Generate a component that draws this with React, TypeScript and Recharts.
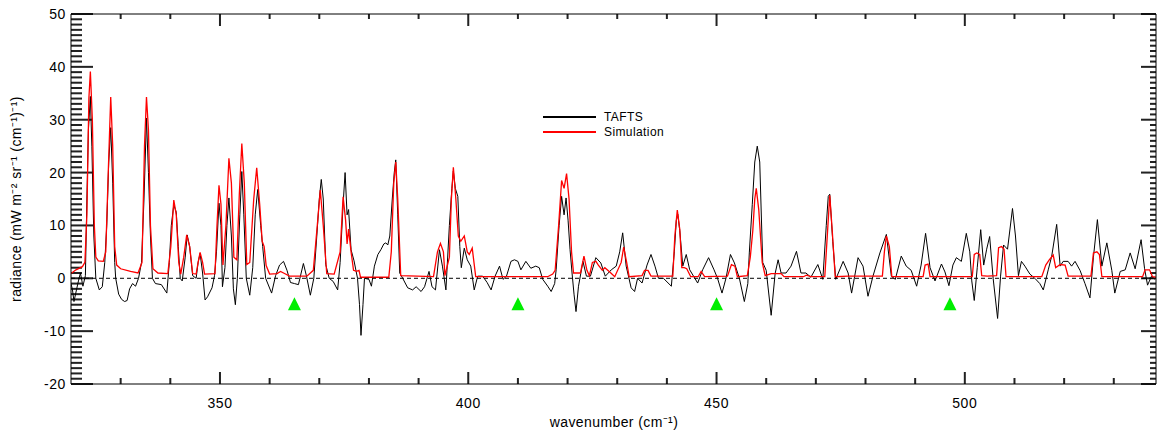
import React from "react";
import {
  ComposedChart,
  Line,
  XAxis,
  YAxis,
  Scatter,
  ReferenceLine,
  Legend,
  Label,
} from "recharts";

// ---------------- DATA ----------------
const taftsWavenumber = [
  320.0, 320.3, 320.6, 321.1, 321.5, 321.9, 322.4, 322.9, 323.2, 323.5, 323.9, 324.2, 324.6, 325.0, 325.7,
  326.3, 326.8, 327.2, 327.6, 328.0, 328.4, 328.8, 329.0, 329.6, 330.2, 330.8, 331.3, 331.8, 332.4, 333.0,
  333.6, 334.2, 334.7, 335.2, 335.6, 336.0, 336.4, 337.0, 338.2, 339.3, 339.8, 340.2, 340.7, 341.2, 341.6,
  342.0, 342.4, 343.0, 343.4, 343.9, 344.5, 345.2, 345.6, 346.0, 346.5, 347.0, 347.5, 348.4, 348.9, 349.3,
  349.8, 350.2, 350.5, 351.0, 351.4, 351.8, 352.3, 352.7, 353.1, 353.5, 354.0, 354.4, 354.8, 355.3, 356.0,
  356.6, 357.1, 357.6, 358.2, 358.6, 359.2, 360.4, 361.2, 362.0, 362.8, 363.5, 364.2, 365.0, 365.8, 366.8,
  367.4, 368.2, 368.9, 369.5, 370.0, 370.4, 370.8, 371.3, 372.0, 372.8, 373.7, 374.2, 374.8, 375.2, 375.6,
  375.9, 376.4, 377.0, 377.7, 378.1, 378.4, 378.8, 379.1, 380.0, 380.5, 381.1, 381.8, 382.4, 383.0, 383.4,
  383.8, 384.2, 384.7, 385.1, 385.4, 385.8, 386.2, 386.8, 387.8, 388.8, 389.5, 390.5, 391.2, 392.1, 392.7,
  393.4, 394.2, 394.8, 395.5, 396.2, 396.7, 397.0, 397.4, 397.9, 398.3, 398.6, 399.2, 399.8, 400.5, 401.2,
  401.9, 402.9, 403.8, 404.6, 405.4, 406.3, 407.0, 407.7, 408.6, 409.3, 410.0, 410.6, 411.6, 412.6, 413.6,
  414.3, 415.0, 416.0, 416.7, 417.4, 417.7, 418.3, 418.8, 419.3, 419.7, 420.1, 420.5, 420.9, 421.3, 421.7,
  422.2, 423.1, 423.8, 424.6, 425.7, 426.7, 427.6, 428.8, 429.8, 430.5, 431.1, 431.8, 432.8, 433.5, 434.1,
  435.0, 436.0, 436.8, 437.6, 438.3, 439.3, 440.9, 441.5, 441.9, 442.2, 442.6, 443.2, 443.9, 444.6, 445.5,
  446.2, 447.2, 448.4, 449.5, 450.2, 451.1, 451.9, 452.8, 453.6, 454.6, 455.6, 456.3, 456.6, 457.2, 457.7,
  458.2, 458.7, 459.3, 460.0, 461.0, 461.8, 462.4, 463.0, 464.0, 465.0, 466.1, 467.0, 468.0, 469.0, 470.4,
  471.4, 472.1, 472.5, 472.8, 473.4, 474.0, 475.5, 476.5, 477.2, 478.5, 479.5, 480.5, 481.5, 482.9, 484.2,
  485.2, 486.0, 487.2, 488.2, 489.2, 490.3, 491.2, 492.1, 493.0, 494.0, 495.3, 496.0, 496.8, 497.6, 498.3,
  499.3, 500.3, 501.0, 501.4, 501.9, 502.5, 503.2, 503.8, 504.4, 505.0, 505.7, 506.6, 507.2, 507.8, 508.6,
  509.6, 510.2, 510.8, 511.4, 512.1, 513.1, 514.1, 515.1, 515.8, 516.8, 517.5, 518.5, 519.2, 519.8, 520.8,
  521.5, 522.2, 523.2, 524.2, 525.2, 525.9, 526.7, 527.6, 528.6, 529.6, 530.2, 531.3, 532.3, 533.3, 534.3,
  535.5, 536.2, 536.8, 537.6, 538.3,
];
const taftsRadiance = [
  -1.0, -2.2, -4.4, -2.2, -0.5, 1.0, -1.5, 0.5, 15, 28, 34.4, 25, 8, 0, -2.2,
  -1.6, 3, 10, 22, 28.5, 18, 3, 0, -3.0, -4.0, -4.4, -4.2, -2.0, -1.0, -1.5,
  0, 3, 15, 30.3, 20, 8, 0, -1.0, -1.2, -2.8, 3, 10, 13.9, 12.5, 6,
  0, -0.5, 4, 8.2, 6, 0.5, 0, 3, 4.7, 1, -4.1, -3.5, -1.8, 0.5, 5,
  14.2, 10, -1.6, 2, 10, 15.2, 8, -2, -5.0, 0, 12, 20.2, 12, 0, -3.2,
  2, 12, 16.8, 10, 6, 0, -2.8, 0.5, 2.5, 3.2, 1.5, -0.8, -1.0, -1.2, 2.8,
  0.5, -3.2, 0, 8, 15, 18.7, 15, 2.6, 0, -0.6, -2.2, 3, 14, 20.0, 12,
  13, 5.4, 3.3, 0, -5, -10.8, -5, 0, -0.2, -1.5, 2.3, 4.5, 5.4, 6.5, 6.7,
  6.3, 8, 15, 20, 22.4, 12, 1, 0, -1.8, -2.2, -1.6, -2.5, -1.6, 1.3, -1.6,
  -2.2, 5.4, 2.3, -2.2, 10, 17, 20.3, 17, 15.5, 6, 2, 5.7, 3.5, 2.3, -2.2,
  0.4, 0.4, -0.8, -2.2, 0.4, 2.3, -0.2, 0.4, 3.2, 3.5, 3.2, 1.6, 3.2, 1.9, 2.3,
  2.0, -0.2, -1.5, -2.5, -1, 1.6, 10, 15.5, 12, 15.2, 11, 5.4, 1, -3, -6.3,
  -1.5, 3.2, 0.4, 0.4, 3.9, 2.9, 0.4, 1.6, 2.3, 5, 8.6, 2.3, -1.8, -2.5, 0,
  -0.9, 2.5, 4.5, 2.3, 0, 0, -1.5, 5, 11, 12.1, 9, 2.3, 4.5, 1.6, 0.2,
  -0.9, 1.6, 3.9, 1.6, 0, -2.8, 0, 4.5, 2.9, 0, -4.4, -1, 4.8, 14, 22,
  25.0, 22, 3, 1.5, -7.0, 0.9, 3.5, 1, 1.0, 2.3, 5.1, 1, 1, 0.2, 2.6,
  -0.2, 10, 15.5, 15.9, 7, -0.2, 3.2, 1, -2.8, 3.9, 2.3, -3.4, 0.4, 4.8, 8.3,
  0.4, -0.2, 4.2, 2.3, 1.5, -1.5, 2.5, 8.5, 2.0, -0.5, 2.7, 1.2, -1.4, 2.5, 3.9,
  3.2, 8.5, 5, -0.5, -4.2, 2.0, 9.2, 2.5, 5.5, 7.9, 0, -7.6, 0.4, 6.3, 5.5,
  13.2, 8, 0.5, 3.2, 2.3, 0.8, 0, -1, -2.2, 1.6, 4.2, 10.2, 2.3, 3.2, 3.2,
  2.3, 3.2, 1.5, -1, -3.7, 4, 11.1, 2.3, 6.7, 1.5, -2.8, 1.3, 1.6, 4.8, 1.8,
  7.3, 1.8, -1.3, 0.4, -0.2,
];

const simWavenumber = [
  320.0, 321.0, 322.3, 322.8, 323.2, 323.6, 323.9, 324.3, 324.7, 325.0, 325.5, 326.5, 327.0, 327.5, 328.0,
  328.4, 328.8, 329.2, 330.0, 332.0, 333.5, 334.3, 334.8, 335.2, 335.6, 336.0, 336.5, 337.5, 339.5, 340.1,
  340.7, 341.2, 341.7, 342.1, 342.7, 343.3, 343.9, 344.5, 345.2, 345.6, 346.0, 346.5, 346.9, 349.0, 349.4,
  349.8, 350.2, 350.6, 351.2, 351.8, 352.3, 352.8, 353.4, 353.9, 354.4, 354.9, 355.4, 356.0, 356.8, 357.4,
  358.0, 358.5, 358.9, 359.3, 360.0, 361.5, 362.2, 363.0, 364.0, 367.5, 368.8, 369.6, 370.2, 370.8, 371.5,
  373.0, 374.2, 374.8, 375.3, 375.6, 375.9, 376.4, 376.9, 377.5, 378.0, 378.3, 384.0, 384.5, 385.0, 385.4,
  385.8, 386.4, 393.0, 393.8, 394.4, 395.0, 395.3, 396.2, 396.6, 397.0, 397.5, 398.0, 398.5, 399.2, 399.8,
  400.2, 400.8, 401.5, 416.0, 417.0, 417.5, 418.2, 418.8, 419.3, 419.8, 420.3, 420.8, 421.2, 422.6, 423.3,
  423.9, 424.4, 425.0, 425.7, 426.2, 427.0, 427.5, 428.5, 429.5, 430.8, 431.3, 431.9, 432.4, 435.0, 435.5,
  436.2, 436.8, 441.2, 441.6, 442.1, 442.6, 443.0, 443.5, 444.0, 444.8, 446.3, 446.9, 447.6, 452.2, 453.0,
  453.7, 454.2, 456.2, 456.8, 457.3, 457.7, 458.0, 458.5, 459.2, 459.8, 461.0, 463.0, 463.6, 467.5, 468.1,
  469.0, 471.8, 472.3, 472.8, 473.3, 473.9, 476.5, 477.2, 483.4, 483.8, 484.2, 484.8, 485.3, 491.6, 492.0,
  492.6, 493.0, 501.5, 501.9, 502.4, 503.0, 503.4, 504.5, 506.4, 506.8, 507.4, 507.9, 508.3, 515.5, 516.3,
  517.0, 517.8, 518.3, 519.2, 520.2, 520.8, 525.4, 525.9, 526.6, 527.1, 527.6, 535.8, 536.3, 537.2, 537.8,
  538.5,
];
const simRadiance = [
  0.9, 1.6, 2.2, 3.0, 12, 34, 39.1, 30, 10, 4.0, 3.3, 3.2, 5, 20, 34.3,
  25, 6, 2.5, 1.8, 1.3, 1.0, 3, 25, 34.3, 28, 10, 1.8, 1.0, 0.9, 6,
  14.8, 12, 3, 0.8, 4, 8.2, 6, 0.9, 0.8, 3, 4.9, 3, 0.8, 0.9, 10,
  17.6, 14, 2.5, 10, 22.7, 18, 4, 3.5, 16, 25.5, 18, 2.6, 3, 15, 20.9,
  14, 7.0, 6, 2.4, 0.8, 0.9, 1.3, 0.9, 0.4, 0.4, 1.5, 10, 16.7, 10, 0.9,
  0.8, 5, 15.4, 11, 6.5, 9.3, 5, 1.5, 1.3, 1.5, 0.2, 0.2, 5, 18, 22.0,
  15, 0.5, 0.3, 5, 6.6, 5, 0.5, 4, 15, 21.0, 15, 8.0, 7, 8.0, 5,
  4.5, 5.7, 0.3, 0.3, 0.8, 1.5, 10, 18.5, 17, 19.8, 15, 5, 1, 1, 4.2,
  1.5, 0.5, 3, 3.2, 2.5, 1.5, 2, 1.2, 0.3, 3, 5.9, 3, 0.3, 0.5, 1.5,
  1.5, 0.4, 0.4, 8, 12.9, 9.2, 2, 2.0, 1.8, 0.3, 0.3, 1.3, 0.3, 0.4, 2.6,
  2.3, 0.3, 0.5, 4, 9, 15, 17.0, 13, 3, 0.5, 0.9, 0.9, 0.3, 0.3, 0.6,
  0.3, 0.3, 8, 15.7, 9, 0.3, 0.4, 0.4, 0.4, 5, 8.0, 6, 0.3, 0.3, 2.5,
  2.7, 0.3, 0.3, 4.5, 4.8, 4.5, 0.5, 0.4, 0.5, 5.8, 6.0, 5.5, 0.3, 0.3, 2.5,
  3.5, 4.4, 2.0, 2.6, 2.5, 0.4, 0.4, 4.8, 5.0, 4.5, 0.3, 0.3, 1.6, 1.6, 0.3,
  0.2,
];

const markerWavenumber = [365, 410, 450, 497];
const markerRadiance = [-4.8, -4.8, -4.8, -4.8];

const xDomain = [320, 538.5];
const yDomain = [-20, 50];
const xMajorTicks = [350, 400, 450, 500];
const xMinorTicks = [330, 340, 360, 370, 380, 390, 410, 420, 430, 440, 460, 470, 480, 490, 510, 520, 530];
const yMajorTicks = [-20, -10, 0, 10, 20, 30, 40, 50];
const yMinorTicks: number[] = [];
for (let v = -20; v <= 50; v++) if (v % 10 !== 0) yMinorTicks.push(v);

const seriesNames = ["TAFTS", "Simulation"];
const seriesColors = ["#000000", "#ff0000"];

const taftsData = taftsWavenumber.map((x, i) => ({ x, y: taftsRadiance[i] }));
const simData = simWavenumber.map((x, i) => ({ x, y: simRadiance[i] }));
const markerData = markerWavenumber.map((x, i) => ({ x, y: markerRadiance[i] }));

// ---------------- STYLE ----------------
const FONT = "'Liberation Sans', Arial, sans-serif";
const W = 1157;
const H = 431;
const TICK = "#222";

const BottomLabel = (props: any) => {
  const { x, y, payload } = props;
  return (
    <text x={x} y={y + 24} textAnchor="middle" fontSize={14} fontFamily={FONT} fill="#000" letterSpacing={0.6}>
      {payload.value}
    </text>
  );
};

const LeftLabel = (props: any) => {
  const { x, y, payload } = props;
  return (
    <text x={x - 5} y={y + 5} textAnchor="end" fontSize={14} fontFamily={FONT} fill="#000" letterSpacing={0.6}>
      {payload.value}
    </text>
  );
};

// inward frame tick marks on all four sides (stable shape functions)
const drawYTick = (p: any, lenL: number, lenR: number) => {
  const left = Math.min(p.x1, p.x2);
  const right = Math.max(p.x1, p.x2);
  return (
    <g>
      <rect x={left} y={p.y1 - 1} width={lenL} height={2} fill={TICK} />
      <rect x={right - lenR} y={p.y1 - 1} width={lenR} height={2} fill={TICK} />
    </g>
  );
};
const yTickMajorShape = (p: any) => drawYTick(p, 22, 15);
const yTickMinorShape = (p: any) => drawYTick(p, 11, 6);

const drawXTick = (p: any, lenB: number, lenT: number) => {
  const top = Math.min(p.y1, p.y2);
  const bottom = Math.max(p.y1, p.y2);
  return (
    <g>
      <rect x={p.x1 - 1} y={bottom - lenB} width={2} height={lenB} fill={TICK} />
      <rect x={p.x1 - 1} y={top} width={2} height={lenT} fill={TICK} />
    </g>
  );
};
const xTickMajorShape = (p: any) => drawXTick(p, 12, 12);
const xTickMinorShape = (p: any) => drawXTick(p, 6, 5);

const Triangle = (props: any) => {
  const { cx, cy } = props;
  if (cx == null || cy == null) return null;
  const h = 13;
  const w = 13;
  const pts = `${cx},${cy - h / 2} ${cx - w / 2},${cy + h / 2} ${cx + w / 2},${cy + h / 2}`;
  return <polygon points={pts} fill="#00ee00" stroke="none" />;
};

const LegendContent = () => (
  <div style={{ fontFamily: FONT, fontSize: 12, color: "#000", letterSpacing: 0.4 }}>
    {seriesNames.map((n, i) => (
      <div key={n} style={{ display: "flex", alignItems: "center", height: 15 }}>
        <div style={{ width: 53, height: 2, background: seriesColors[i], marginRight: 8 }} />
        <span>{n}</span>
      </div>
    ))}
  </div>
);

const XTitle = () => (
  <text x={614} y={427} textAnchor="middle" fontSize={14} fontFamily={FONT} fill="#000" letterSpacing={0.4}>
    wavenumber (cm⁻¹)
  </text>
);
const YTitle = () => (
  <text x={21} y={199} transform="rotate(-90 21 199)" textAnchor="middle" fontSize={14} fontFamily={FONT} fill="#000" letterSpacing={0.4}>
    radiance (mW m⁻² sr⁻¹ (cm⁻¹)⁻¹)
  </text>
);

export default function App() {
  return (
    <div style={{ position: "absolute", left: 0, top: 0, width: W, height: H, background: "#fff" }}>
      <ComposedChart width={W} height={H} margin={{ top: 13, right: 0, bottom: 0, left: 0 }}>
        <XAxis
          xAxisId="bottom"
          dataKey="x"
          type="number"
          orientation="bottom"
          domain={xDomain}
          ticks={xMajorTicks}
          interval={0}
          allowDataOverflow
          height={47}
          tickSize={0}
          tickMargin={0}
          tickLine={false}
          axisLine={{ stroke: "#000", strokeWidth: 1 }}
          tick={BottomLabel}
        >
          <Label content={XTitle} />
        </XAxis>
        <XAxis
          xAxisId="top"
          type="number"
          orientation="top"
          domain={xDomain}
          allowDataOverflow
          height={1}
          tick={false}
          tickLine={false}
          axisLine={{ stroke: "#000", strokeWidth: 1 }}
        />
        <YAxis
          yAxisId="left"
          dataKey="y"
          type="number"
          domain={yDomain}
          ticks={yMajorTicks}
          interval={0}
          allowDataOverflow
          width={71}
          tickSize={0}
          tickMargin={0}
          tickLine={false}
          axisLine={{ stroke: "#000", strokeWidth: 1 }}
          tick={LeftLabel}
        >
          <Label content={YTitle} />
        </YAxis>
        <YAxis
          yAxisId="right"
          orientation="right"
          type="number"
          domain={yDomain}
          allowDataOverflow
          width={1}
          tick={false}
          tickLine={false}
          axisLine={{ stroke: "#000", strokeWidth: 1 }}
        />
        {yMajorTicks.map((v) => (
          <ReferenceLine key={`ytM${v}`} xAxisId="bottom" yAxisId="left" y={v} shape={yTickMajorShape} />
        ))}
        {yMinorTicks.map((v) => (
          <ReferenceLine key={`ytm${v}`} xAxisId="bottom" yAxisId="left" y={v} shape={yTickMinorShape} />
        ))}
        {xMajorTicks.map((v) => (
          <ReferenceLine key={`xtM${v}`} xAxisId="bottom" yAxisId="left" x={v} shape={xTickMajorShape} />
        ))}
        {xMinorTicks.map((v) => (
          <ReferenceLine key={`xtm${v}`} xAxisId="bottom" yAxisId="left" x={v} shape={xTickMinorShape} />
        ))}
        <Line
          xAxisId="bottom"
          yAxisId="left"
          data={taftsData}
          dataKey="y"
          name={seriesNames[0]}
          type="linear"
          stroke={seriesColors[0]}
          strokeWidth={1}
          dot={false}
          isAnimationActive={false}
        />
        <Line
          xAxisId="bottom"
          yAxisId="left"
          data={simData}
          dataKey="y"
          name={seriesNames[1]}
          type="linear"
          stroke={seriesColors[1]}
          strokeWidth={1.3}
          dot={false}
          isAnimationActive={false}
        />
        <ReferenceLine xAxisId="bottom" yAxisId="left" y={0} stroke="#000" strokeDasharray="4 3" strokeWidth={1} />
        <Scatter
          xAxisId="bottom"
          yAxisId="left"
          data={markerData}
          dataKey="y"
          shape={Triangle}
          isAnimationActive={false}
          legendType="none"
        />
        <Legend
          layout="vertical"
          align="center"
          verticalAlign="middle"
          content={LegendContent}
          wrapperStyle={{ position: "absolute", left: 543, top: 109, width: 160, height: 32 }}
        />
      </ComposedChart>
    </div>
  );
}
